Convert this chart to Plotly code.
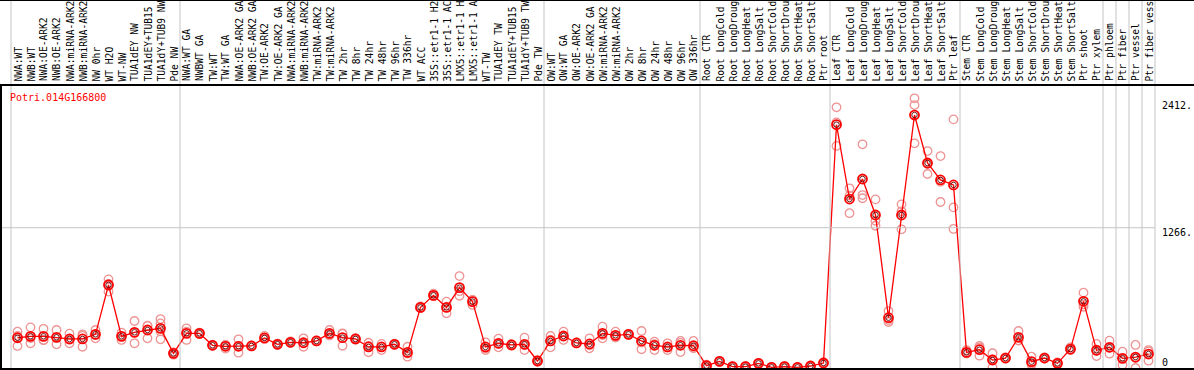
import plotly.graph_objects as go

W, H = 1194, 370

gene = "Potri.014G166800"

categories = [
    "NWA:WT", "NWB:WT", "NWA:OE-ARK2", "NWB:OE-ARK2", "NWA:miRNA-ARK2", "NWB:miRNA-ARK2",
    "NW 0hr", "WT H2O", "WT-NW", "TUA1dEY NW", "TUA1dEY+TUB15", "TUA1dY+TUB9 NW", "Pde NW",
    "NWA:WT GA", "NWBWT GA", "TW:WT", "TW:WT GA", "NWA:OE-ARK2 GA", "NWB:OE-ARK2 GA",
    "TW:OE-ARK2", "TW:OE-ARK2 GA", "NWA:miRNA-ARK2", "NWB:miRNA-ARK2", "TW:miRNA-ARK2",
    "TW:miRNA-ARK2", "TW 2hr", "TW 8hr", "TW 24hr", "TW 48hr", "TW 96hr", "TW 336hr",
    "WT ACC", "35S::etr1-1 H2", "35S::etr1-1 AC", "LMX5::etr1-1 H", "LMX5::etr1-1 A",
    "WT-TW", "TUA1dEY TW", "TUA1dEY+TUB15", "TUA1dY+TUB9 TW", "Pde TW",
    "OW:WT", "OW:WT GA", "OW:OE-ARK2", "OW:OE-ARK2 GA", "OW:miRNA-ARK2", "OW:miRNA-ARK2",
    "OW 2hr", "OW 8hr", "OW 24hr", "OW 48hr", "OW 96hr", "OW 336hr",
    "Root CTR", "Root LongCold", "Root LongDroug", "Root LongHeat", "Root LongSalt",
    "Root ShortCold", "Root ShortDrou", "Root ShortHeat", "Root ShortSalt", "Ptr root",
    "Leaf CTR", "Leaf LongCold", "Leaf LongDroug", "Leaf LongHeat", "Leaf LongSalt",
    "Leaf ShortCold", "Leaf ShortDrou", "Leaf ShortHeat", "Leaf ShortSalt", "Ptr leaf",
    "Stem CTR", "Stem LongCold", "Stem LongDroug", "Stem LongHeat", "Stem LongSalt",
    "Stem ShortCold", "Stem ShortDrou", "Stem ShortHeat", "Stem ShortSalt", "Ptr shoot",
    "Ptr xylem", "Ptr phloem", "Ptr fiber", "Ptr vessel", "Ptr fiber vess",
]

# group boundaries (index of first column of each group, plus end)
group_edges = [0, 13, 41, 53, 63, 73, 84, 85, 86, 87, 88]

mean_values = [
    273, 286, 286, 277, 262, 262, 304, 749, 286, 322, 343, 358, 132,
    313, 313, 205, 196, 196, 199, 271, 214, 232, 228, 244, 313, 274, 262, 190, 190, 214,
    141, 547, 656, 547, 725, 599, 190, 223, 208, 214, 63,
    244, 289, 226, 217, 313, 295, 304, 244, 205, 190, 205, 201,
    21, 60, 12, 12, 42, 6, 12, 6, 18, 45,
    2196, 1525, 1706, 1381, 454, 1381, 2283, 1850, 1697, 1652,
    141, 165, 72, 90, 277, 57, 90, 42, 171, 602, 160,
    187, 87, 99, 126,
]

replicates = [
    [328, 199, 290], [367, 223, 270], [354, 253, 251], [343, 214, 275], [310, 223, 255],
    [304, 192, 290], [343, 300, 268], [800, 760, 689], [319, 253, 286], [424, 223, 320],
    [382, 268, 380], [442, 403, 330, 259], [140, 120, 136],
    [358, 253, 328], [313, 305, 320], [205, 200, 210], [202, 175, 211], [259, 199, 138],
    [199, 195, 203], [290, 262, 262], [214, 220, 208], [232, 240, 225], [268, 192, 225],
    [250, 240, 244], [343, 304, 292], [313, 201, 308], [270, 255, 262], [228, 142, 200],
    [190, 162, 218], [214, 220, 208], [192, 102, 130], [547, 540, 555], [670, 650, 648],
    [599, 494, 548], [830, 652, 693], [614, 569, 614], [232, 162, 176], [265, 187, 217],
    [208, 215, 200], [274, 162, 206], [63, 55, 70],
    [289, 187, 256], [328, 253, 286], [226, 230, 222], [268, 178, 205], [373, 268, 298],
    [328, 283, 274], [304, 300, 308], [334, 169, 229], [238, 162, 215], [223, 162, 185],
    [244, 144, 227], [244, 180, 180],
    [30, 10, 23], [60, 65, 55], [12, 8, 16], [12, 5, 19], [42, 45, 39],
    [6, 3, 9], [20, 8, 8], [6, 4, 8], [18, 22, 14], [45, 50, 40],
    [2353, 2217, 2004], [1622, 1397, 1556], [2019, 1561, 1532], [1522, 1329, 1284],
    [514, 433, 415], [1477, 1252, 1414], [2434, 2373, 2028], [1958, 1751, 1841],
    [1913, 1498, 1680], [2244, 1450, 1255],
    [160, 130, 141], [199, 111, 185], [133, 6, 77], [90, 95, 85], [334, 250, 247],
    [102, 40, 30], [90, 95, 85], [50, 35, 42], [187, 160, 166], [680, 553, 573],
    [217, 108, 155],
    [247, 129, 185], [147, 27, 87], [208, 0, 89], [162, 66, 150],
]

y_tick_values = [2412, 1266, 0]
y_tick_labels = ["2412.", "1266.", "0"]

# ---------------- layout helpers ----------------
X0, STEP = 11, 13          # pixel of first column edge, column width
Y0, SCALE = 368, 0.1108    # pixel of value 0, pixels per unit
HEADER = 85                # pixel y of the header separator


def px(x):
    return x / W


def py(y):
    return 1 - y / H


x_range = [(0 - X0) / STEP - 0.5, (W - X0) / STEP - 0.5]
y_range = [(Y0 - H) / SCALE, Y0 / SCALE]

idx = list(range(len(categories)))
rep_x, rep_y = [], []
for i, reps in enumerate(replicates):
    for v in reps:
        rep_x.append(i)
        rep_y.append(v)

fig = go.Figure()

fig.add_trace(go.Scatter(
    x=rep_x, y=rep_y, mode="markers",
    marker=dict(symbol="circle-open", size=8.5, color="#EE9494", line=dict(width=1.3)),
    hoverinfo="skip", cliponaxis=False,
))
fig.add_trace(go.Scatter(
    x=idx, y=mean_values, mode="lines+markers",
    line=dict(color="#FF0000", width=1.3),
    marker=dict(symbol="circle-open", size=9, color="#FF0000", line=dict(width=1.8)),
    cliponaxis=False,
))
fig.add_trace(go.Scatter(
    x=idx, y=mean_values, mode="markers",
    marker=dict(symbol="circle-open", size=5.5, color="#5A0000", line=dict(width=0.9)),
    hoverinfo="skip", cliponaxis=False,
))

shapes = []
# grey group separators
for k in group_edges:
    shapes.append(dict(type="line", xref="x", yref="paper", x0=k - 0.5, x1=k - 0.5,
                       y0=0, y1=1, line=dict(color="#C4C4C4", width=1)))
# horizontal grid line at 1266
shapes.append(dict(type="line", xref="paper", yref="y", x0=px(1), x1=px(X0 + STEP * 88),
                   y0=1266, y1=1266, line=dict(color="#C4C4C4", width=1)))
# black frame lines
shapes.append(dict(type="line", xref="paper", yref="paper", x0=0, x1=1,
                   y0=py(HEADER), y1=py(HEADER), line=dict(color="black", width=2)))
shapes.append(dict(type="line", xref="paper", yref="paper", x0=0, x1=1,
                   y0=py(0.5), y1=py(0.5), line=dict(color="black", width=1)))
shapes.append(dict(type="line", xref="paper", yref="paper", x0=0, x1=1,
                   y0=py(369), y1=py(369), line=dict(color="black", width=2)))
shapes.append(dict(type="line", xref="paper", yref="paper", x0=px(1), x1=px(1),
                   y0=py(HEADER), y1=0, line=dict(color="black", width=2)))

annotations = []
mono = "DejaVu Sans Mono"
for i, name in enumerate(categories):
    annotations.append(dict(
        x=i, xref="x", y=py(HEADER - 1.5), yref="paper", text=name, textangle=-90,
        showarrow=False, xanchor="center", yanchor="bottom",
        font=dict(family=mono, size=9.6, color="black"),
    ))
annotations.append(dict(
    x=px(8), y=py(98), xref="paper", yref="paper", text=gene, showarrow=False,
    xanchor="left", yanchor="middle", font=dict(family=mono, size=10, color="#FF0000"),
))
for v, lab in zip(y_tick_values, y_tick_labels):
    yy = Y0 - v * SCALE + 5
    if v == 0:
        yy = 362
    annotations.append(dict(
        x=px(1160), y=py(yy), xref="paper", yref="paper", text=lab, showarrow=False,
        xanchor="left", yanchor="middle", font=dict(family=mono, size=10, color="black"),
    ))

fig.update_layout(
    width=W, height=H, margin=dict(l=0, r=0, t=0, b=0),
    paper_bgcolor="white", plot_bgcolor="white", showlegend=False,
    xaxis=dict(range=x_range, visible=False, fixedrange=True),
    yaxis=dict(range=y_range, visible=False, fixedrange=True),
    shapes=shapes, annotations=annotations,
)

fig.write_html(
    "out.html",
    config={"displayModeBar": False},
    post_script="document.body.style.margin='0px';document.body.style.overflow='hidden';",
)
